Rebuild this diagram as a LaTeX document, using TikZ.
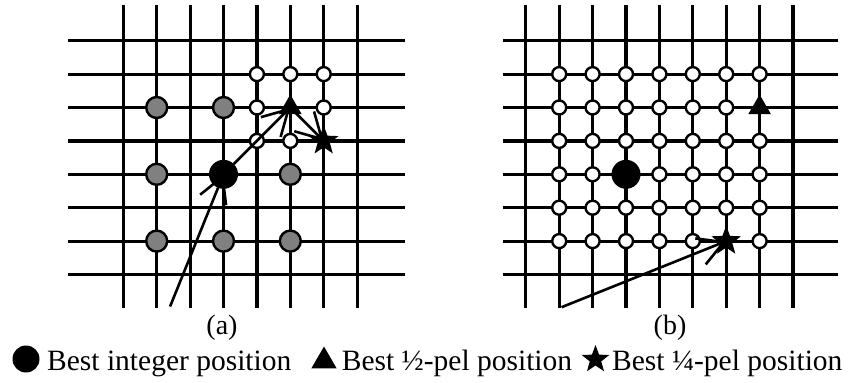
\documentclass[tikz,border=0pt]{standalone}
\usepackage{fontspec}
\setmainfont{Liberation Serif}
\usetikzlibrary{shapes.geometric, arrows.meta, positioning}
\tikzstyle{gridline} = [line width=3.2pt]
\tikzstyle{intpos} = [circle, draw, fill=gray, line width=2.4pt, minimum size=21pt, inner sep=0pt]
\tikzstyle{subpos} = [circle, draw, fill=white, line width=2.4pt, minimum size=14pt, inner sep=0pt]
\tikzstyle{bestint} = [circle, fill=black, minimum size=29pt, inner sep=0pt]
\tikzstyle{besthalf} = [regular polygon, regular polygon sides=3, fill=black, minimum size=26pt, inner sep=0pt]
\tikzstyle{bestquarter} = [star, star points=5, star point ratio=2.4, fill=black, minimum size=31pt, inner sep=0pt]
\tikzstyle{mv} = [draw, line width=2.6pt, -{Straight Barb[length=25pt, width=28pt]}]
\tikzstyle{caption} = [font=\fontsize{28}{32}\selectfont, inner sep=0pt]
\tikzstyle{legend} = [font=\fontsize{29.5}{34}\selectfont, inner sep=0pt, anchor=base west]

\begin{document}
\begin{tikzpicture}[x=1pt, y=-1pt]
    \useasboundingbox (0,0) rectangle (852,383);

    % (a) busqueda en dos pasos
    \begin{scope}[shift={(123.3,40.7)}, x=33.4pt, y=-33.4pt]
        \foreach \i in {0,...,7}
            \draw[gridline] (\i,-1.07) -- (\i,8);
        \foreach \j in {0,...,7}
            \draw[gridline] (-1.66,\j) -- (8.43,\j);
        \foreach \c/\r in {1/2, 3/2, 1/4, 5/4, 1/6, 3/6, 5/6}
            \node[intpos] (a-int-\c-\r) at (\c,\r) {};
        \foreach \c/\r in {4/1, 5/1, 6/1, 4/2, 6/2, 4/3, 5/3}
            \node[subpos] (a-sub-\c-\r) at (\c,\r) {};
        \node[bestint] (a-int) at (3,4) {};
        \node[besthalf] (a-half) at (5,2) {};
        \node[bestquarter] (a-quarter) at (6,3) {};
        \coordinate (a-start) at (1.40,7.96);
        % vectores
        \path[mv] (a-start) -- (a-int.center);
        \path[mv] (a-int.center) -- (a-half.center);
        \path[mv] (a-half.center) -- (a-quarter.center);
    \end{scope}

    % (b) busqueda completa
    \begin{scope}[shift={(525.8,40.7)}, x=33.4pt, y=-33.4pt]
        \foreach \i in {0,...,8}
            \draw[gridline] (\i,-1.07) -- (\i,8);
        \foreach \j in {0,...,7}
            \draw[gridline] (-0.68,\j) -- (9.35,\j);
        \foreach \r/\cols in {1/{1,...,7}, 2/{1,...,6}, 3/{1,...,7}, 4/{1,2,4,5,6,7}, 5/{1,...,7}, 6/{1,2,3,4,5,7}}
            \foreach \c in \cols
                \node[subpos] (b-sub-\c-\r) at (\c,\r) {};
        \node[bestint] (b-int) at (3,4) {};
        \node[besthalf] (b-half) at (7,2) {};
        \node[bestquarter] (b-quarter) at (6,6) {};
        \coordinate (b-start) at (1.07,7.98);
        \path[mv] (b-start) -- (b-quarter.center);
    \end{scope}

    % Etiquetas
    \node[caption] (cap-a) at (222,328) {(a)};
    \node[caption] (cap-b) at (670,328) {(b)};

    % Leyenda
    \node[bestint, minimum size=27pt] (leg-int) at (26,359) {};
    \node[legend] (leg-int-txt) at (47,370) {Best integer position};
    \node[besthalf, minimum size=29pt] (leg-half) at (324,361) {};
    \node[legend] (leg-half-txt) at (341.7,370) {Best ½-pel position};
    \node[bestquarter, minimum size=29pt] (leg-quarter) at (595.5,359.5) {};
    \node[legend] (leg-quarter-txt) at (612,370) {Best ¼-pel position};
\end{tikzpicture}
\end{document}
